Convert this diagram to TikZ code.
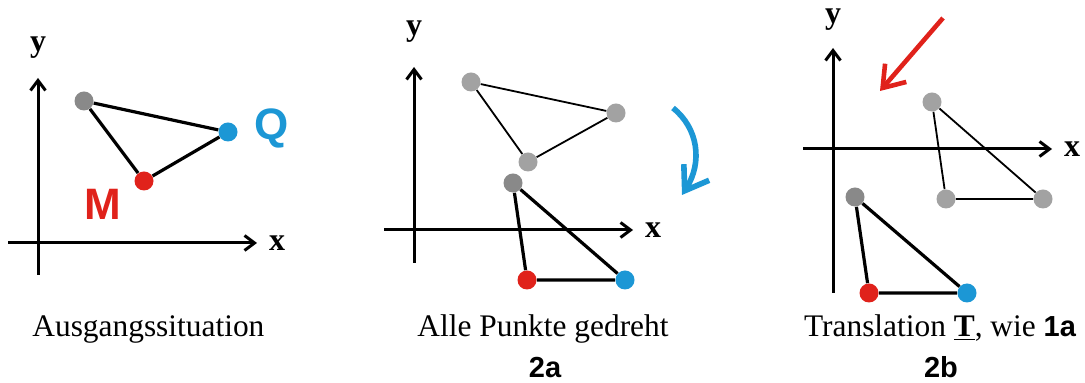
\documentclass[tikz,border=0pt]{standalone}
\usepackage{fontspec}
\setmainfont{Liberation Serif}
\setsansfont{Liberation Sans}
\usepackage{tikz}
\usetikzlibrary{arrows.meta}
\definecolor{PtRed}{HTML}{E0221B}
\definecolor{PtBlue}{HTML}{1C97D5}
\definecolor{PtGray}{HTML}{898989}
\definecolor{PtLight}{HTML}{A2A2A2}

\begin{document}
\begin{tikzpicture}[x=0.5pt,y=-0.5pt,
  pt/.style={circle,fill=#1,inner sep=0pt,minimum size=9.5pt},
  axis/.style={line width=1.5pt,-{Straight Barb[length=5pt,width=7.5pt]}},
  axlbl/.style={inner sep=0pt,font=\fontsize{16}{16}\selectfont\bfseries},
  bigl/.style={inner sep=0pt,font=\fontsize{22}{22}\selectfont\sffamily\bfseries},
  captxt/.style={inner sep=0pt,anchor=base,font=\fontsize{15.7}{18}\selectfont},
  numtxt/.style={inner sep=0pt,anchor=base,font=\fontsize{14.5}{16}\selectfont\sffamily\bfseries},
  thick edge/.style={line width=1.6pt},
  thin edge/.style={line width=0.9pt}]
\useasboundingbox (0,0) rectangle (1085,383);
% axes of the three panels
\foreach \i/\ox/\oy/\xl/\xr/\yt/\yb/\ly in {1/38/243/8/257/78/275/48, 2/414/230/384/633/67/263/32, 3/833/149/803/1052/48/293/20} {
  \draw[axis] (\xl,\oy) -- (\xr,\oy);
  \draw[axis] (\ox,\yb) -- (\ox,\yt);
  \node[axlbl] (x\i) at (\xr+20,\oy) {x};
  \node[axlbl] (y\i) at (\ox,\ly) {y};
}

% panel 1: starting position
\node[pt=PtGray] (g1) at (84,101) {};
\node[pt=PtBlue] (q1) at (228,132) {};
\node[pt=PtRed] (m1) at (144,181) {};
\draw[thick edge] (g1) -- (q1) -- (m1) -- (g1);
\node[bigl,text=PtBlue] (lq) at (272,128) {Q};
\node[bigl,text=PtRed] (lm) at (103,204) {M};

% panel 2: all points rotated
\node[pt=PtLight] (ga) at (471,82) {};
\node[pt=PtLight] (qa) at (616,113) {};
\node[pt=PtLight] (ma) at (528,162) {};
\draw[thin edge] (ga) -- (qa) -- (ma) -- (ga);
\node[pt=PtGray] (g2) at (513,183) {};
\node[pt=PtRed] (m2) at (527,280) {};
\node[pt=PtBlue] (q2) at (625,280) {};
\draw[thick edge] (g2) -- (m2) -- (q2) -- (g2);
\coordinate (rs) at (673,108);
\coordinate (re) at (682,195);
\draw[PtBlue,line width=2.8pt,-{Straight Barb[length=11pt,width=15pt]}]
  (rs) .. controls (698,128) and (703,162) .. (re);

% panel 3: translation
\node[pt=PtLight] (gb) at (932,102) {};
\node[pt=PtLight] (mb) at (946,199) {};
\node[pt=PtLight] (qb) at (1043,199) {};
\draw[thin edge] (gb) -- (mb) -- (qb) -- (gb);
\node[pt=PtGray] (g3) at (855,197) {};
\node[pt=PtRed] (m3) at (869,293) {};
\node[pt=PtBlue] (q3) at (967,293) {};
\draw[thick edge] (g3) -- (m3) -- (q3) -- (g3);
\coordinate (ts) at (943,18);
\coordinate (te) at (880,91);
\draw[PtRed,line width=2.3pt,-{Straight Barb[length=10pt,width=14pt]}] (ts) -- (te);

% captions
\node[captxt,anchor=base west] (c1) at (32,337) {Ausgangssituation};
\node[captxt] (c2) at (543,337) {Alle Punkte gedreht};
\node[numtxt] (n2) at (545,378) {2a};
\node[captxt] (c3) at (940,337) {Translation \underline{\textbf{T}}, wie {\sffamily\bfseries\fontsize{14.5}{16}\selectfont 1a}};
\node[numtxt] (n3) at (941,378) {2b};
\end{tikzpicture}
\end{document}
